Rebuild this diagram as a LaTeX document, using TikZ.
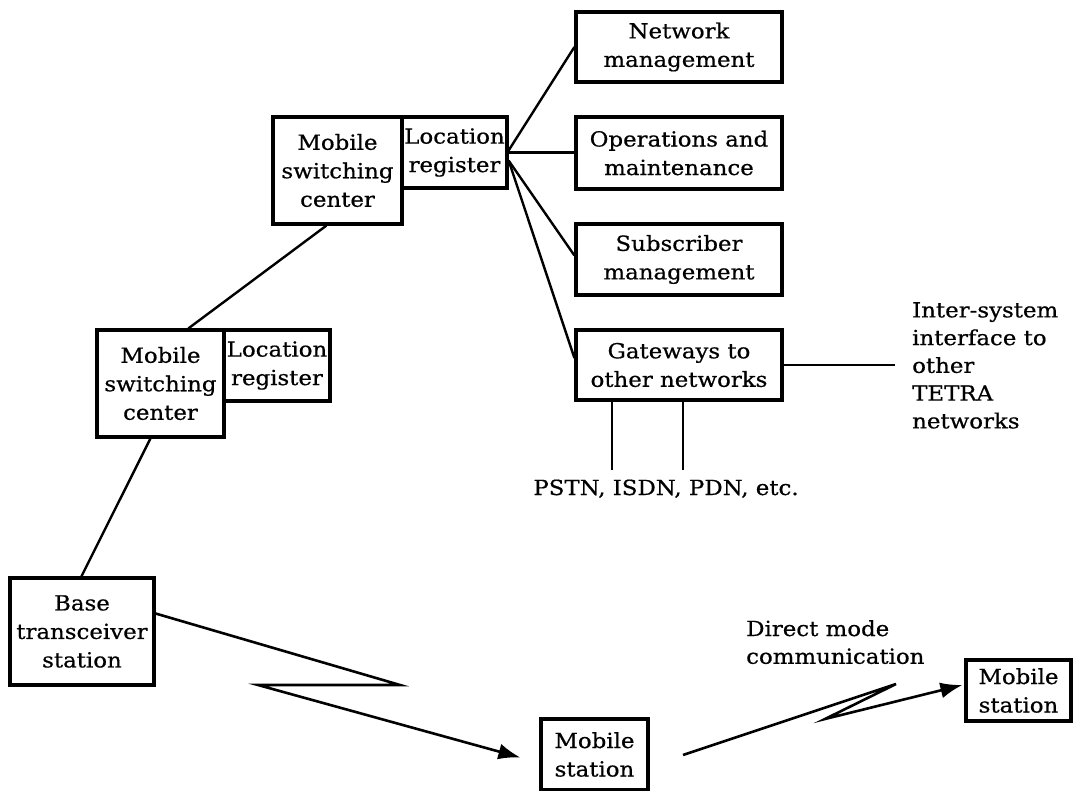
\documentclass[tikz,border=0pt]{standalone}
\usepackage{fontspec}
\setmainfont{DejaVu Serif}[FakeStretch=1.1,FakeBold=0.6]
\usetikzlibrary{arrows.meta}
\begin{document}
\begin{tikzpicture}[x=1pt,y=-1pt,
  box/.style={draw,line width=3.2pt,inner sep=0pt,align=center,
    font=\fontsize{20.8}{28.5}\selectfont},
  link/.style={line width=2.4pt},
  radio/.style={line width=2.6pt,-{Latex[length=22pt,width=16pt]}},
  lbl/.style={inner sep=0pt,align=left,font=\fontsize{20.8}{27.75}\selectfont}]
\useasboundingbox (0,0) rectangle (1073,791);

% management and gateway column
\node[box,minimum width=206pt,minimum height=70pt] (nm) at (679,47) {Network\\management};
\node[box,minimum width=206pt,minimum height=72pt] (om) at (679,153) {Operations and\\maintenance};
\node[box,minimum width=206pt,minimum height=71pt] (sm) at (679,259.5) {Subscriber\\management};
\node[box,minimum width=206pt,minimum height=70pt] (gw) at (679,365) {Gateways to\\other networks};

% switching centres with their location registers
\node[box,minimum width=129pt,minimum height=107pt] (msc1) at (337.5,170.5) {Mobile\\switching\\center};
\node[box,minimum width=105pt,minimum height=71pt] (lr1) at (454.5,152.5) {Location\\register};
\node[box,minimum width=127pt,minimum height=107pt] (msc2) at (160.5,383.5) {Mobile\\switching\\center};
\node[box,minimum width=106pt,minimum height=71pt] (lr2) at (277,365.5) {Location\\register};

% radio side
\node[box,minimum width=144pt,minimum height=107pt] (bts) at (82,631.5) {Base\\transceiver\\station};
\node[box,minimum width=107pt,minimum height=71pt] (ms1) at (594.5,754.5) {Mobile\\station};
\node[box,minimum width=105pt,minimum height=61pt] (ms2) at (1018.5,690.5) {Mobile\\station};

% free labels
\node[lbl,anchor=north west] (tetra) at (912,302) {Inter-system\\interface to\\other\\TETRA\\networks};
\node[lbl,anchor=base] (pstn) at (666,495) {PSTN, ISDN, PDN, etc.};
\node[lbl,anchor=north west] (dmo) at (746,620) {Direct mode\\communication};

% fixed links
\draw[link] ([xshift=73pt]bts.north west) -- ([xshift=55pt]msc2.south west);
\draw[link] ([xshift=93pt]msc2.north west) -- ([xshift=55pt]msc1.south west);
\draw[link] ([yshift=2pt]lr1.east) -- (nm.west);
\draw[link] (lr1.east) -- (lr1.east -| om.west);
\draw[link] ([yshift=-8pt]lr1.east) -- ([yshift=4pt]sm.west);
\draw[link] ([yshift=-8pt]lr1.east) -- ([yshift=7pt]gw.west);
\draw[link] (gw.east) -- ([xshift=-17pt]tetra.west |- gw.east);
\coordinate (pa) at (612,470);
\coordinate (pb) at (683,470);
\draw[link] (gw.south -| pa) -- (pa);
\draw[link] (gw.south -| pb) -- (pb);

% radio links
\coordinate (z1a) at (400,685);
\coordinate (z1b) at (258,685);
\draw[radio] ([yshift=18pt]bts.east) -- (z1a) -- (z1b) -- ([xshift=-19pt,yshift=-3pt]ms1.west);
\coordinate (z2s) at (683,755);
\coordinate (z2a) at (896,684);
\coordinate (z2b) at (825,719);
\draw[radio] (z2s) -- (z2a) -- (z2b) -- ([xshift=-2pt,yshift=5.5pt]ms2.west);
\end{tikzpicture}
\end{document}
